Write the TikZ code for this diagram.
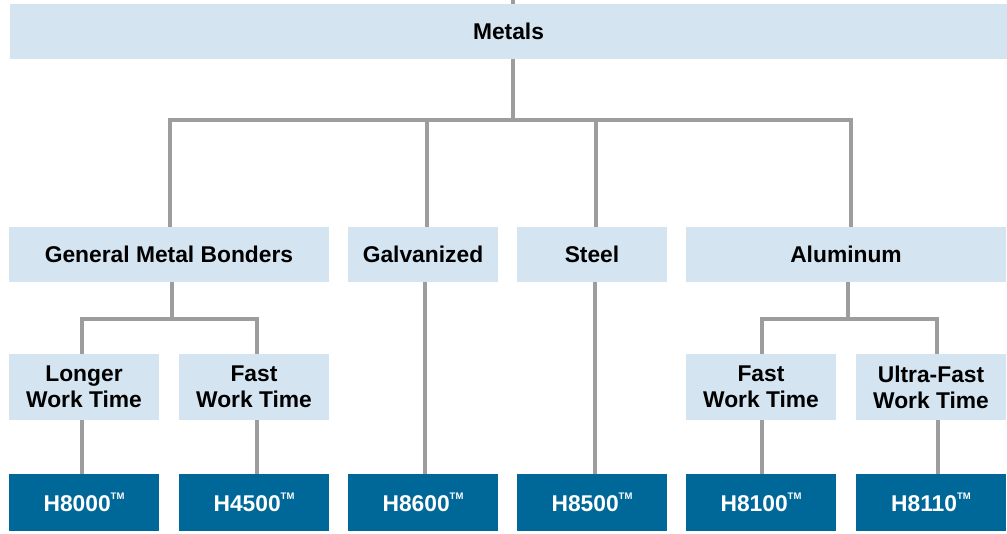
\documentclass[tikz,border=0pt]{standalone}
\usepackage{fontspec}
\setmainfont{Liberation Sans}
\usetikzlibrary{backgrounds}
\definecolor{lightbox}{RGB}{213,228,241}
\definecolor{darkbox}{RGB}{0,104,153}
\definecolor{conncol}{RGB}{157,157,157}
\newcommand{\tmark}{\raisebox{0.95ex}{\fontsize{9.5}{9.5}\selectfont TM}}
\begin{document}
\begin{tikzpicture}[x=1pt,y=-1pt,
  every node/.style={inner sep=0pt, outer sep=0pt, align=center,
    font=\fontsize{22.8}{26}\selectfont\bfseries},
  lbox/.style={fill=lightbox, text=black, minimum width=150pt},
  dbox/.style={fill=darkbox, text=white, minimum width=150pt, minimum height=57pt},
  conn/.style={draw=conncol, line width=4.5pt}]
\useasboundingbox (0,0) rectangle (1007,533);
\coordinate (top) at (513,0);
\coordinate (bar) at (0,120);
\coordinate (subbar) at (0,319);
% nodes
\node[lbox, minimum width=997pt, minimum height=55pt] (metals) at (508.5,31.5) {Metals};
\node[lbox, minimum width=320pt, minimum height=55pt] (gmb) at (169,254.5) {General Metal Bonders};
\node[lbox, minimum height=55pt] (galv) at (423,254.5) {Galvanized};
\node[lbox, minimum height=55pt] (steel) at (592,254.5) {Steel};
\node[lbox, minimum width=320pt, minimum height=55pt] (al) at (846,254.5) {Aluminum};
\node[lbox, minimum height=66pt] (longer) at (84,387) {Longer\\Work Time};
\node[lbox, minimum height=66pt] (fast) at (254,387) {Fast\\Work Time};
\node[lbox, minimum height=66pt] (fastal) at (761,387) {Fast\\Work Time};
\node[lbox, minimum height=66pt] (ultra) at (931,387) {Ultra-Fast\\Work Time};
\node[dbox] (h8000) at (84,502.5) {H8000\tmark};
\node[dbox] (h4500) at (254,502.5) {H4500\tmark};
\node[dbox] (h8600) at (423,502.5) {H8600\tmark};
\node[dbox] (h8500) at (592,502.5) {H8500\tmark};
\node[dbox] (h8100) at (761,502.5) {H8100\tmark};
\node[dbox] (h8110) at (931,502.5) {H8110\tmark};
% connectors behind boxes
\begin{scope}[on background layer]
\draw[conn] (top) -- (top |- metals.south) -- (top |- 0,122);
\draw[conn] ([xshift=1pt]gmb.north) |- ([xshift=5pt]al.north |- bar) -- ([xshift=5pt]al.north);
\draw[conn] ([xshift=4pt]galv.north) -- ([xshift=4pt]galv.north |- bar);
\draw[conn] ([xshift=4pt]steel.north) -- ([xshift=4pt]steel.north |- bar);
% general metal bonders
\draw[conn] ([xshift=3pt]gmb.south) -- ([xshift=3pt]gmb.south |- subbar);
\draw[conn] ([xshift=-2pt]longer.north) |- ([xshift=3pt]fast.north |- subbar) -- ([xshift=3pt]fast.north);
% aluminum
\draw[conn] ([xshift=2pt]al.south) -- ([xshift=2pt]al.south |- subbar);
\draw[conn] ([xshift=1pt]fastal.north) |- ([xshift=6pt]ultra.north |- subbar) -- ([xshift=6pt]ultra.north);
% to products
\draw[conn] ([xshift=-2pt]longer.south) -- ([xshift=-2pt]h8000.north);
\draw[conn] ([xshift=3pt]fast.south) -- ([xshift=3pt]h4500.north);
\draw[conn] ([xshift=2pt]galv.south) -- ([xshift=2pt]h8600.north);
\draw[conn] ([xshift=3pt]steel.south) -- ([xshift=3pt]h8500.north);
\draw[conn] ([xshift=1pt]fastal.south) -- ([xshift=1pt]h8100.north);
\draw[conn] ([xshift=7pt]ultra.south) -- ([xshift=7pt]h8110.north);
\end{scope}
\end{tikzpicture}
\end{document}
